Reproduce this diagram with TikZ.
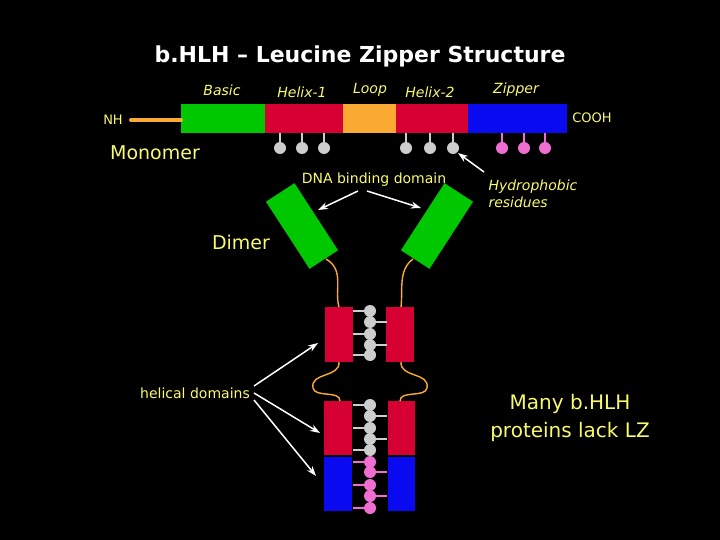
\documentclass[tikz,border=0pt]{standalone}
\usepackage{fontspec}
\setmainfont{DejaVu Sans}
\usetikzlibrary{arrows.meta}
\definecolor{ylw}{RGB}{250,250,110}
\definecolor{grn}{RGB}{0,200,0}
\definecolor{rd}{RGB}{215,0,50}
\definecolor{org}{RGB}{250,170,50}
\definecolor{blu}{RGB}{10,10,240}
\definecolor{gry}{RGB}{205,205,205}
\definecolor{pnk}{RGB}{240,110,210}
\begin{document}
\begin{tikzpicture}[x=1pt,y=-1pt,
  lab/.style={text=ylw,font=\itshape\fontsize{14}{17}\selectfont},
  big/.style={text=ylw,font=\fontsize{19}{22}\selectfont},
  arr/.style={white,line width=1.5pt,-{Stealth[length=10pt,width=7pt]}},
  link/.style={org,line width=1.4pt},
  res/.style={line width=1.5pt},
  ball/.style={circle,inner sep=0pt,minimum size=12pt}]
\fill[black] (0,0) rectangle (720,540);
\useasboundingbox (0,0) rectangle (720,540);
\node[text=white,font=\bfseries\fontsize{22}{26}\selectfont] (title) at (360,56) {b.HLH -- Leucine Zipper Structure};
% monomer
\fill[grn] (181,104) rectangle (265,133);
\fill[rd] (265,104) rectangle (343,133);
\fill[org] (343,104) rectangle (396,133);
\fill[rd] (396,104) rectangle (468,133);
\fill[blu] (468,104) rectangle (567,133);
\draw[org,line width=4pt,line cap=round] (131,120) -- (181,120);
\node[text=ylw,font=\fontsize{13}{15}\selectfont] (nh) at (113,120) {NH};
\node[text=ylw,font=\fontsize{13}{15}\selectfont] (cooh) at (592,118) {COOH};
\node[lab] (basic) at (222,90) {Basic};
\node[lab] (h1) at (302,92) {Helix-1};
\node[lab] (loop) at (370,90) {Loop};
\node[lab] (h2) at (430,92) {Helix-2};
\node[lab] (zip) at (516,90) {Zipper};
\foreach \x in {280,302,324,406,430,453}
  \draw[gry,res] (\x,133) -- (\x,148) node[ball,fill=gry] {};
\foreach \x in {502,524,545}
  \draw[pnk,res] (\x,133) -- (\x,148) node[ball,fill=pnk] {};
\coordinate (r6) at (458,153);
\node[big] (mono) at (155,153) {Monomer};
\node[text=ylw,font=\fontsize{14}{17}\selectfont] (dna) at (374,180) {DNA binding domain};
\node[lab,align=left,anchor=west] (hyd) at (485,194) {Hydrophobic\\residues};
\draw[arr] (484,172) -- (r6);
% dimer
\node[big] (dimer) at (241,242) {Dimer};
\node[fill=grn,minimum width=80pt,minimum height=34pt,rotate=-57,inner sep=0pt] (gl) at (302,226) {};
\node[fill=grn,minimum width=80pt,minimum height=34pt,rotate=57,inner sep=0pt] (gr) at (437,226) {};
\draw[arr] (358,191) -- (318,210);
\draw[arr] (367,191) -- (421,208);
\fill[rd] (325,307) rectangle (353,362);
\fill[rd] (386,307) rectangle (414,362);
\fill[rd] (324,401) rectangle (352,455);
\fill[rd] (388,401) rectangle (415,455);
\fill[blu] (324,457) rectangle (352,511);
\fill[blu] (388,457) rectangle (415,511);
\draw[link] (326,259) .. controls (345,270) and (334,290) .. (339,307);
\draw[link] (413,259) .. controls (398,270) and (403,290) .. (401,307);
\draw[link] (339,362) .. controls (340,378) and (310,372) .. (313,388) .. controls (315,398) and (340,390) .. (340,401);
\draw[link] (401,362) .. controls (400,378) and (430,372) .. (427,388) .. controls (425,398) and (400,390) .. (400,401);
\foreach \y/\s in {311/-1,322/1,334/-1,345/1,355/-1}
  \draw[gry,res] (370,\y) -- ++(\s*17,0) node[pos=0,ball,fill=gry] {};
\foreach \y/\s in {405/-1,416/1,428/-1,439/1,450/-1}
  \draw[gry,res] (370,\y) -- ++(\s*17,0) node[pos=0,ball,fill=gry] {};
\foreach \y/\s in {462/-1,472/1,485/-1,496/1,508/-1}
  \draw[pnk,res] (370,\y) -- ++(\s*17,0) node[pos=0,ball,fill=pnk] {};
\node[text=ylw,font=\fontsize{14}{17}\selectfont] (hel) at (195,393) {helical domains};
\draw[arr] (254,386) -- (318,343);
\draw[arr] (254,393) -- (320,433);
\draw[arr] (254,400) -- (316,476);
\node[text=ylw,align=center,font=\fontsize{20}{28}\selectfont] (many) at (570,418) {Many b.HLH\\proteins lack LZ};
\end{tikzpicture}
\end{document}
